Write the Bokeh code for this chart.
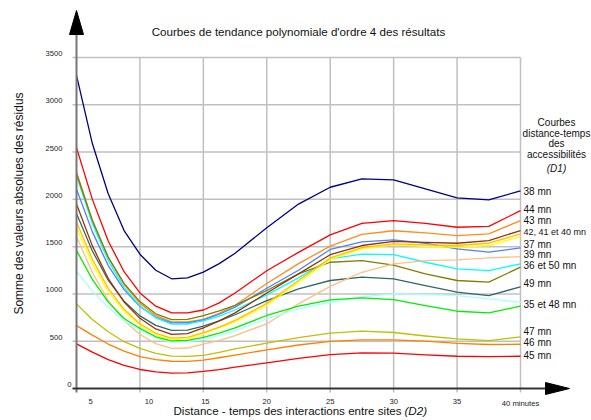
import math
from bokeh.plotting import figure
from bokeh.models import ColumnDataSource, Range1d
from bokeh.core.properties import value
from bokeh.embed import file_html
from bokeh.resources import INLINE

# ---------------- data ----------------
x_minutes = [5, 6.25, 7.5, 8.75, 10, 11.25, 12.5, 13.75, 15, 16.25, 17.5,
             20, 22.5, 25, 27.5, 30, 32.5, 35, 37.5, 40]

c38_navy = [3310, 2590, 2060, 1670, 1420, 1250, 1160, 1170, 1230, 1320, 1430, 1700, 1950, 2128, 2216, 2206, 2111, 2016, 1995, 2090]
c44_red = [2547, 2000, 1560, 1235, 1010, 871, 800, 800, 830, 905, 1010, 1245, 1440, 1625, 1745, 1775, 1745, 1705, 1715, 1880]
c43_orange = [2290, 1780, 1385, 1100, 900, 770, 705, 705, 730, 795, 880, 1110, 1320, 1505, 1630, 1668, 1645, 1617, 1635, 1776]
c_blue = [2110, 1656, 1300, 1045, 867, 753, 693, 695, 725, 785, 860, 1060, 1250, 1470, 1550, 1572, 1536, 1477, 1441, 1487]
c_cyan = [2250, 1746, 1353, 1070, 873, 747, 680, 682, 715, 765, 830, 990, 1170, 1370, 1420, 1415, 1335, 1265, 1247, 1318]
c_olive = [2270, 1776, 1390, 1112, 919, 790, 728, 730, 770, 820, 880, 1036, 1212, 1335, 1353, 1305, 1212, 1142, 1124, 1283]
c49_slate = [1850, 1454, 1145, 922, 768, 668, 615, 618, 660, 715, 780, 930, 1054, 1142, 1177, 1160, 1089, 1018, 983, 1075]
c_brown = [1950, 1508, 1163, 915, 742, 630, 572, 580, 640, 715, 800, 1010, 1212, 1415, 1512, 1555, 1546, 1536, 1564, 1670]
c_gold = [1760, 1366, 1059, 837, 684, 584, 533, 540, 590, 650, 720, 900, 1142, 1380, 1490, 1529, 1518, 1512, 1536, 1635]
c_yellow = [1700, 1320, 1025, 815, 670, 568, 518, 525, 580, 640, 705, 880, 1120, 1365, 1477, 1518, 1504, 1493, 1512, 1607]
c_peach = [1605, 1227, 931, 718, 571, 475, 425, 428, 470, 510, 560, 684, 895, 1080, 1229, 1318, 1353, 1360, 1381, 1395]
c_green = [1460, 1153, 913, 740, 635, 547, 503, 508, 540, 585, 640, 772, 870, 937, 958, 940, 877, 817, 800, 870]
c_lightcyan = [1240, 1030, 860, 720, 615, 535, 492, 495, 520, 560, 610, 737, 842, 912, 970, 1000, 994, 983, 948, 912]
c47_olivegold = [895, 730, 600, 495, 425, 372, 342, 340, 350, 383, 418, 480, 538, 585, 606, 592, 555, 525, 507, 545]
c46_orange = [665, 565, 470, 395, 338, 305, 288, 287, 300, 325, 352, 409, 460, 498, 515, 515, 500, 478, 465, 468]
c45_red = [472, 385, 305, 245, 201, 175, 162, 165, 180, 200, 225, 272, 318, 359, 377, 373, 356, 341, 338, 341]

y_ticks = [0, 500, 1000, 1500, 2000, 2500, 3000, 3500]
y_tick_labels = ["0", "500", "1000", "1500", "2000", "2500", "3000", "3500"]
x_ticks = [5, 10, 15, 20, 25, 30, 35]
x_tick_labels = ["5", "10", "15", "20", "25", "30", "35"]
x_grid = [10, 15, 20, 25, 30, 35, 40]
x_last_label = "40 minutes"

curve_labels = ["38 mn", "44 mn", "43 mn", "42, 41 et 40 mn", "37 mn", "39 mn",
                "36 et 50 mn", "49 mn", "35 et 48 mn", "47 mn", "46 mn", "45 mn"]
curve_label_values = [2083, 1890, 1776, 1650, 1523, 1416, 1301, 1110, 888, 603, 486, 352]

legend_head = ["Courbes", "distance-temps", "des", "accessibilités"]
legend_head_italic = "(D1)"

title_text = "Courbes de tendance polynomiale d'ordre 4 des résultats"
y_title = "Somme des valeurs absolues des résidus"
x_title = "Distance - temps des interactions entre sites "
x_title_italic = "(D2)"

# ---------------- styling / layout ----------------
series = [
    (c38_navy, "#000080"), (c44_red, "#FF0000"), (c43_orange, "#FF8C1A"),
    (c_blue, "#4D80FF"), (c_cyan, "#00FFFF"), (c_olive, "#808000"),
    (c49_slate, "#336666"), (c_brown, "#993300"), (c_peach, "#FFBF80"),
    (c_lightcyan, "#A8FFFF"), (c_green, "#00EE00"), (c_yellow, "#FFFF00"),
    (c_gold, "#FFC000"), (c47_olivegold, "#C0C000"), (c46_orange, "#FF8000"),
    (c45_red, "#FF0000"),
]

W, H = 591, 420
ux = 444.0 / 35.0          # px per minute
uy = 331.0 / 3500.0        # px per unit
x0 = 5 - 76 / ux
x1 = x0 + W / ux
y1 = 3500 + 57 / uy
y0 = y1 - H / uy


def dx(px):
    return px / ux


def dy(px):
    return px / uy


FONT = value("Liberation Sans")

p = figure(width=W, height=H, x_range=Range1d(x0, x1), y_range=Range1d(y0, y1),
           x_axis_type=None, y_axis_type=None, output_backend="svg",
           toolbar_location=None, min_border=0)
p.outline_line_color = None
p.grid.visible = False
p.background_fill_color = "white"

# grid
p.segment(x0=x_grid, y0=[-dy(4)] * len(x_grid), x1=x_grid, y1=[y_ticks[-1]] * len(x_grid),
          line_color="#C0C0C0", line_width=1.5)
hg = y_ticks[1:]
p.segment(x0=[5 - dx(4)] * len(hg), y0=hg, x1=[40] * len(hg), y1=hg,
          line_color="#C0C0C0", line_width=1.5)

# curves
for vals, col in series:
    p.line(x_minutes, vals, line_color=col, line_width=1.3, line_join="round")

# axes
p.segment(x0=[5], y0=[-dy(4)], x1=[5], y1=[3500 + dy(23)], line_color="#777777", line_width=2)
p.segment(x0=[5 - dx(4)], y0=[0], x1=[40 + dx(26)], y1=[0], line_color="#333333", line_width=2)
# arrow heads
p.patch([5 - dx(7), 5, 5 + dx(7)], [3500 + dy(23), 3500 + dy(47), 3500 + dy(23)], color="black")
p.patch([40 + dx(25), 40 + dx(49), 40 + dx(25)], [dy(6), 0, -dy(6)], color="black")

# y tick labels
ysrc = ColumnDataSource(dict(x=[5] * len(y_ticks), y=y_ticks, t=y_tick_labels,
                             xo=[-5 if t == "0" else -14 for t in y_tick_labels]))
p.text(x="x", y="y", text="t", source=ysrc, x_offset="xo", y_offset=-4,
       text_align="right", text_baseline="middle", text_font=FONT,
       text_font_size="7.6px", text_color="#222222")

# x tick labels
xoffs = {"5": 14, "10": 9, "15": 2}
xsrc = ColumnDataSource(dict(x=x_ticks, y=[0] * len(x_ticks), t=x_tick_labels,
                             xo=[xoffs.get(t, 0) for t in x_tick_labels]))
p.text(x="x", y="y", text="t", source=xsrc, x_offset="xo", y_offset=13,
       text_align="center", text_baseline="middle", text_font=FONT,
       text_font_size="7.6px", text_color="#222222")
p.text(x=[40], y=[0], text=[x_last_label], y_offset=15, text_align="center",
       text_baseline="middle", text_font=FONT, text_font_size="7.7px", text_color="#222222")

# curve labels (the long one slightly smaller so it stays inside the page)
lsrc = ColumnDataSource(dict(x=[40] * len(curve_labels), y=curve_label_values, t=curve_labels,
                             fs=["9px" if len(t) > 12 else "10px" for t in curve_labels]))
p.text(x="x", y="y", text="t", source=lsrc, x_offset=3, text_font_size="fs",
       text_align="left", text_baseline="middle", text_font=FONT, text_color="#111111")

# legend heading
hx = 5 + (556 - 76) / ux
p.text(x=[hx] * len(legend_head), y=[3500] * len(legend_head), text=legend_head,
       y_offset=[122 - 57, 132.5 - 57, 143 - 57, 154 - 57],
       text_align="center", text_baseline="middle", text_font=FONT,
       text_font_size="10px", text_color="#111111")
p.text(x=[hx], y=[3500], text=[legend_head_italic], y_offset=168 - 57,
       text_align="center", text_baseline="middle", text_font=FONT,
       text_font_size="10px", text_font_style="italic", text_color="#111111")

# title
p.text(x=[5 + (298 - 76) / ux], y=[3500], text=[title_text], y_offset=31 - 57,
       text_align="center", text_baseline="middle", text_font=FONT,
       text_font_size="11.6px", text_color="#111111")

# y title
p.text(x=[5 + (18 - 76) / ux], y=[(388 - 203) / uy], text=[y_title], angle=math.pi / 2,
       text_align="center", text_baseline="middle", text_font=FONT,
       text_font_size="12px", text_color="#111111")

# x title
p.text(x=[5 + (173 - 76) / ux], y=[0], text=[x_title], y_offset=22,
       text_align="left", text_baseline="middle", text_font=FONT,
       text_font_size="11.6px", text_color="#111111")
p.text(x=[5 + (404 - 76) / ux], y=[0], text=[x_title_italic], y_offset=22,
       text_align="left", text_baseline="middle", text_font=FONT,
       text_font_size="11.6px", text_font_style="italic", text_color="#111111")

open("out.html", "w").write(file_html(p, INLINE))
